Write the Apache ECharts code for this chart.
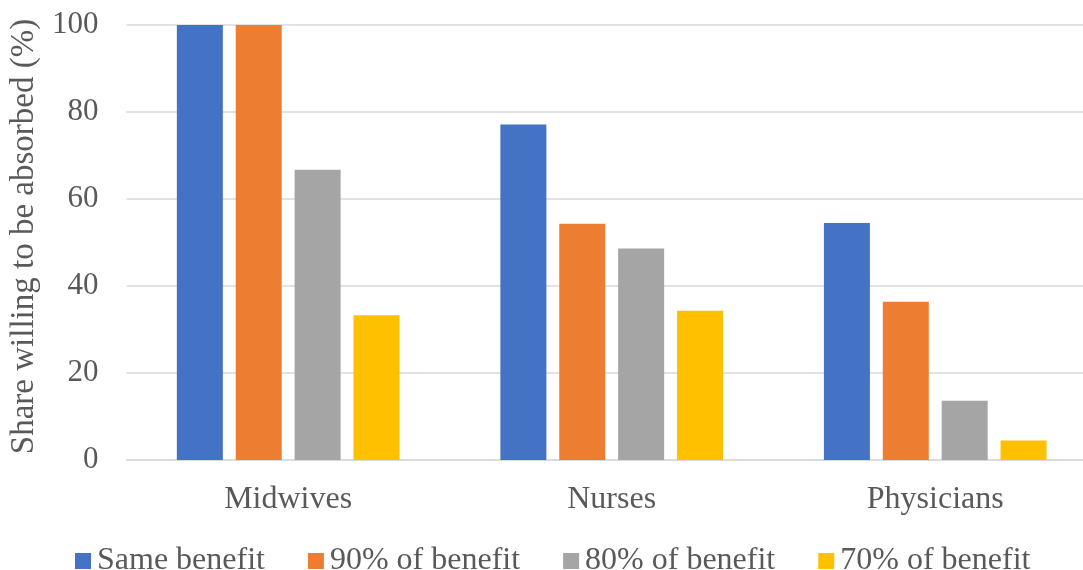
<!DOCTYPE html>
<html>
<head>
<meta charset="utf-8">
<script src="https://cdn.jsdelivr.net/npm/echarts@6/dist/echarts.min.js"></script>
<style>
html,body{margin:0;padding:0;background:#fff;overflow:hidden;}
#chart{width:1100px;height:570px;}
</style>
</head>
<body>
<div id="chart"></div>
<script>
const categories = ['Midwives', 'Nurses', 'Physicians'];
const seriesNames = ['Same benefit', '90% of benefit', '80% of benefit', '70% of benefit'];
const sameBenefit = [100, 77.1, 54.5];
const benefit90 = [100, 54.3, 36.4];
const benefit80 = [66.7, 48.6, 13.6];
const benefit70 = [33.3, 34.3, 4.5];
const yTicks = [0, 20, 40, 60, 80, 100];
const colors = ['#4472C4', '#ED7D31', '#A5A5A5', '#FFC000'];

const FONT = 'Liberation Serif, Times New Roman, serif';
const TXT = '#595959';
const allData = [sameBenefit, benefit90, benefit80, benefit70];

const chart = echarts.init(document.getElementById('chart'), null, {renderer: 'canvas'});
chart.setOption({
  animation: false,
  color: colors,
  textStyle: {fontFamily: FONT},
  grid: {left: 126, top: 25, right: 3, bottom: 110, containLabel: false},
  legend: {
    top: 540,
    left: 70,
    itemWidth: 16,
    itemHeight: 16,
    itemGap: 43,
    icon: 'rect',
    textStyle: {fontFamily: FONT, fontSize: 32, color: TXT, padding: [0, 0, 0, 1]},
    data: seriesNames
  },
  xAxis: {
    type: 'category',
    data: categories,
    axisLine: {show: true, lineStyle: {color: '#D9D9D9', width: 1.5}},
    axisTick: {show: false},
    axisLabel: {fontFamily: FONT, fontSize: 32, color: TXT, margin: 24}
  },
  yAxis: {
    type: 'value',
    min: yTicks[0],
    max: yTicks[yTicks.length - 1],
    interval: 20,
    name: 'Share willing to be absorbed (%)',
    nameLocation: 'middle',
    nameGap: 81,
    nameTextStyle: {fontFamily: FONT, fontSize: 33, color: TXT, padding: [0, 0, 0, 12]},
    axisLine: {show: false},
    axisTick: {show: false},
    splitLine: {lineStyle: {color: '#D9D9D9', width: 1.5}},
    axisLabel: {fontFamily: FONT, fontSize: 31, color: TXT, margin: 28}
  },
  series: seriesNames.map((n, i) => ({
    name: n,
    type: 'bar',
    data: allData[i],
    barWidth: 46,
    barGap: '28%',
    itemStyle: {color: colors[i]}
  }))
});
</script>
</body>
</html>
